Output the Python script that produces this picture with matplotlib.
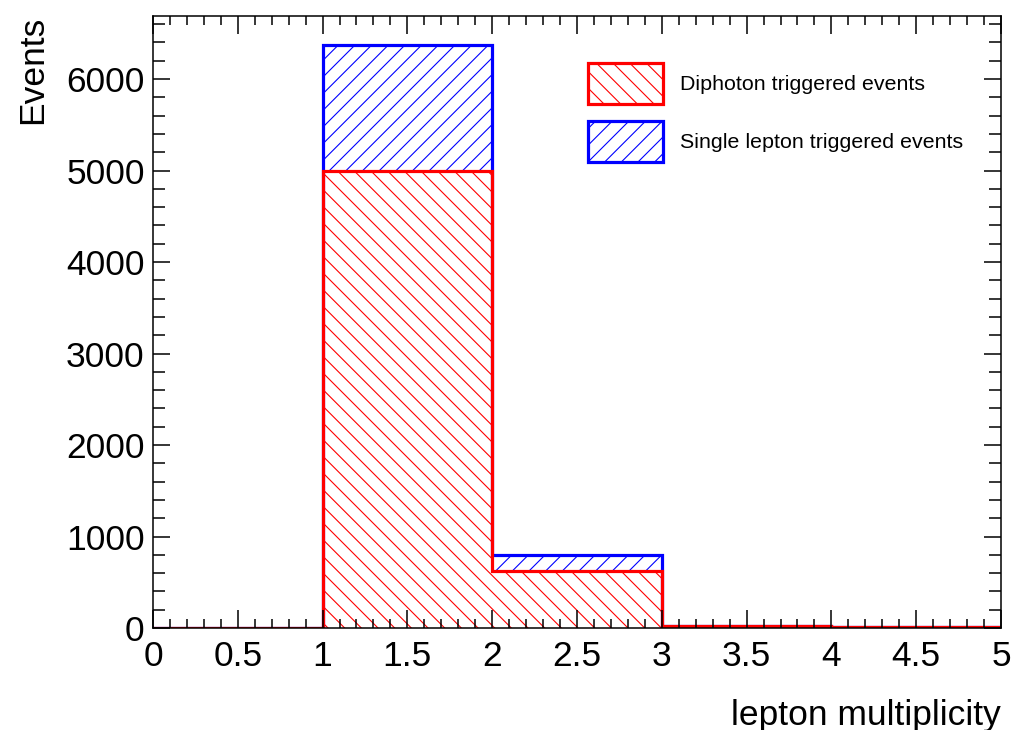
import numpy as np
import matplotlib
matplotlib.use("Agg")
import matplotlib.pyplot as plt
from matplotlib.patches import Patch
from matplotlib.ticker import MultipleLocator

# histogram contents (5 bins from 0 to 5)
bin_edges = [0, 1, 2, 3, 4, 5]
diphoton = [2, 5000, 620, 20, 8]
single_lepton = [0, 1370, 180, 2, 1]
labels = ["Diphoton triggered events", "Single lepton triggered events"]
xtick_labels = ['0', '0.5', '1', '1.5', '2', '2.5', '3', '3.5', '4', '4.5', '5']

plt.rcParams['font.family'] = ['Liberation Sans', 'DejaVu Sans']
plt.rcParams['hatch.linewidth'] = 0.8

edges = np.array(bin_edges, dtype=float)
red = np.array(diphoton, dtype=float)
total = red + np.array(single_lepton, dtype=float)

fig = plt.figure(figsize=(10.15, 7.3), dpi=100)
ax = fig.add_axes([0.1507, 0.1397, 0.8355, 0.8383])

widths = np.diff(edges)
# stacked: blue part on top of red
ax.bar(edges[:-1], total - red, width=widths, bottom=red, align='edge',
       fill=False, edgecolor='#0000ff', hatch='//', linewidth=0)
ax.bar(edges[:-1], red, width=widths, align='edge',
       fill=False, edgecolor='#ff0000', hatch='\\\\', linewidth=0)
ax.stairs(total, edges, color='#0000ff', linewidth=2.3, baseline=0)
ax.stairs(red, edges, color='#ff0000', linewidth=2.3, baseline=0)

ax.set_xlim(0, 5)
ax.set_ylim(0, total.max() * 1.05)

ax.xaxis.set_minor_locator(MultipleLocator(0.1))
ax.yaxis.set_major_locator(MultipleLocator(1000))
ax.yaxis.set_minor_locator(MultipleLocator(200))
ax.set_xticks(np.arange(0, 5.01, 0.5))
ax.set_xticklabels(xtick_labels)

for s in ax.spines.values():
    s.set_linewidth(1.1)
ax.tick_params(axis='both', which='both', direction='in', top=True, right=True,
               width=1.1, labelsize=25.5)
ax.tick_params(axis='x', which='major', length=13, pad=8.5)
ax.tick_params(axis='x', which='minor', length=6.5)
ax.tick_params(axis='y', which='major', length=12.5, pad=6)
ax.tick_params(axis='y', which='minor', length=8.5)

ax.set_xlabel('lepton multiplicity', fontsize=25.5, loc='right')
ax.xaxis.set_label_coords(1.0, -0.116)
ax.set_ylabel('Events', fontsize=25.5, loc='top')
ax.yaxis.set_label_coords(-0.122, 1.0)

handles = [Patch(facecolor='none', edgecolor='#ff0000', hatch='\\\\', linewidth=2.3),
           Patch(facecolor='none', edgecolor='#0000ff', hatch='//', linewidth=2.3)]
ax.legend(handles, labels, loc='upper left', bbox_to_anchor=(588 / 1015, 1 - 63 / 730),
          bbox_transform=fig.transFigure, frameon=False, fontsize=15.4,
          borderpad=0, borderaxespad=0, handlelength=3.5, handleheight=2.58,
          labelspacing=0.78, handletextpad=0.8)

fig.savefig('out.png', dpi=100)
